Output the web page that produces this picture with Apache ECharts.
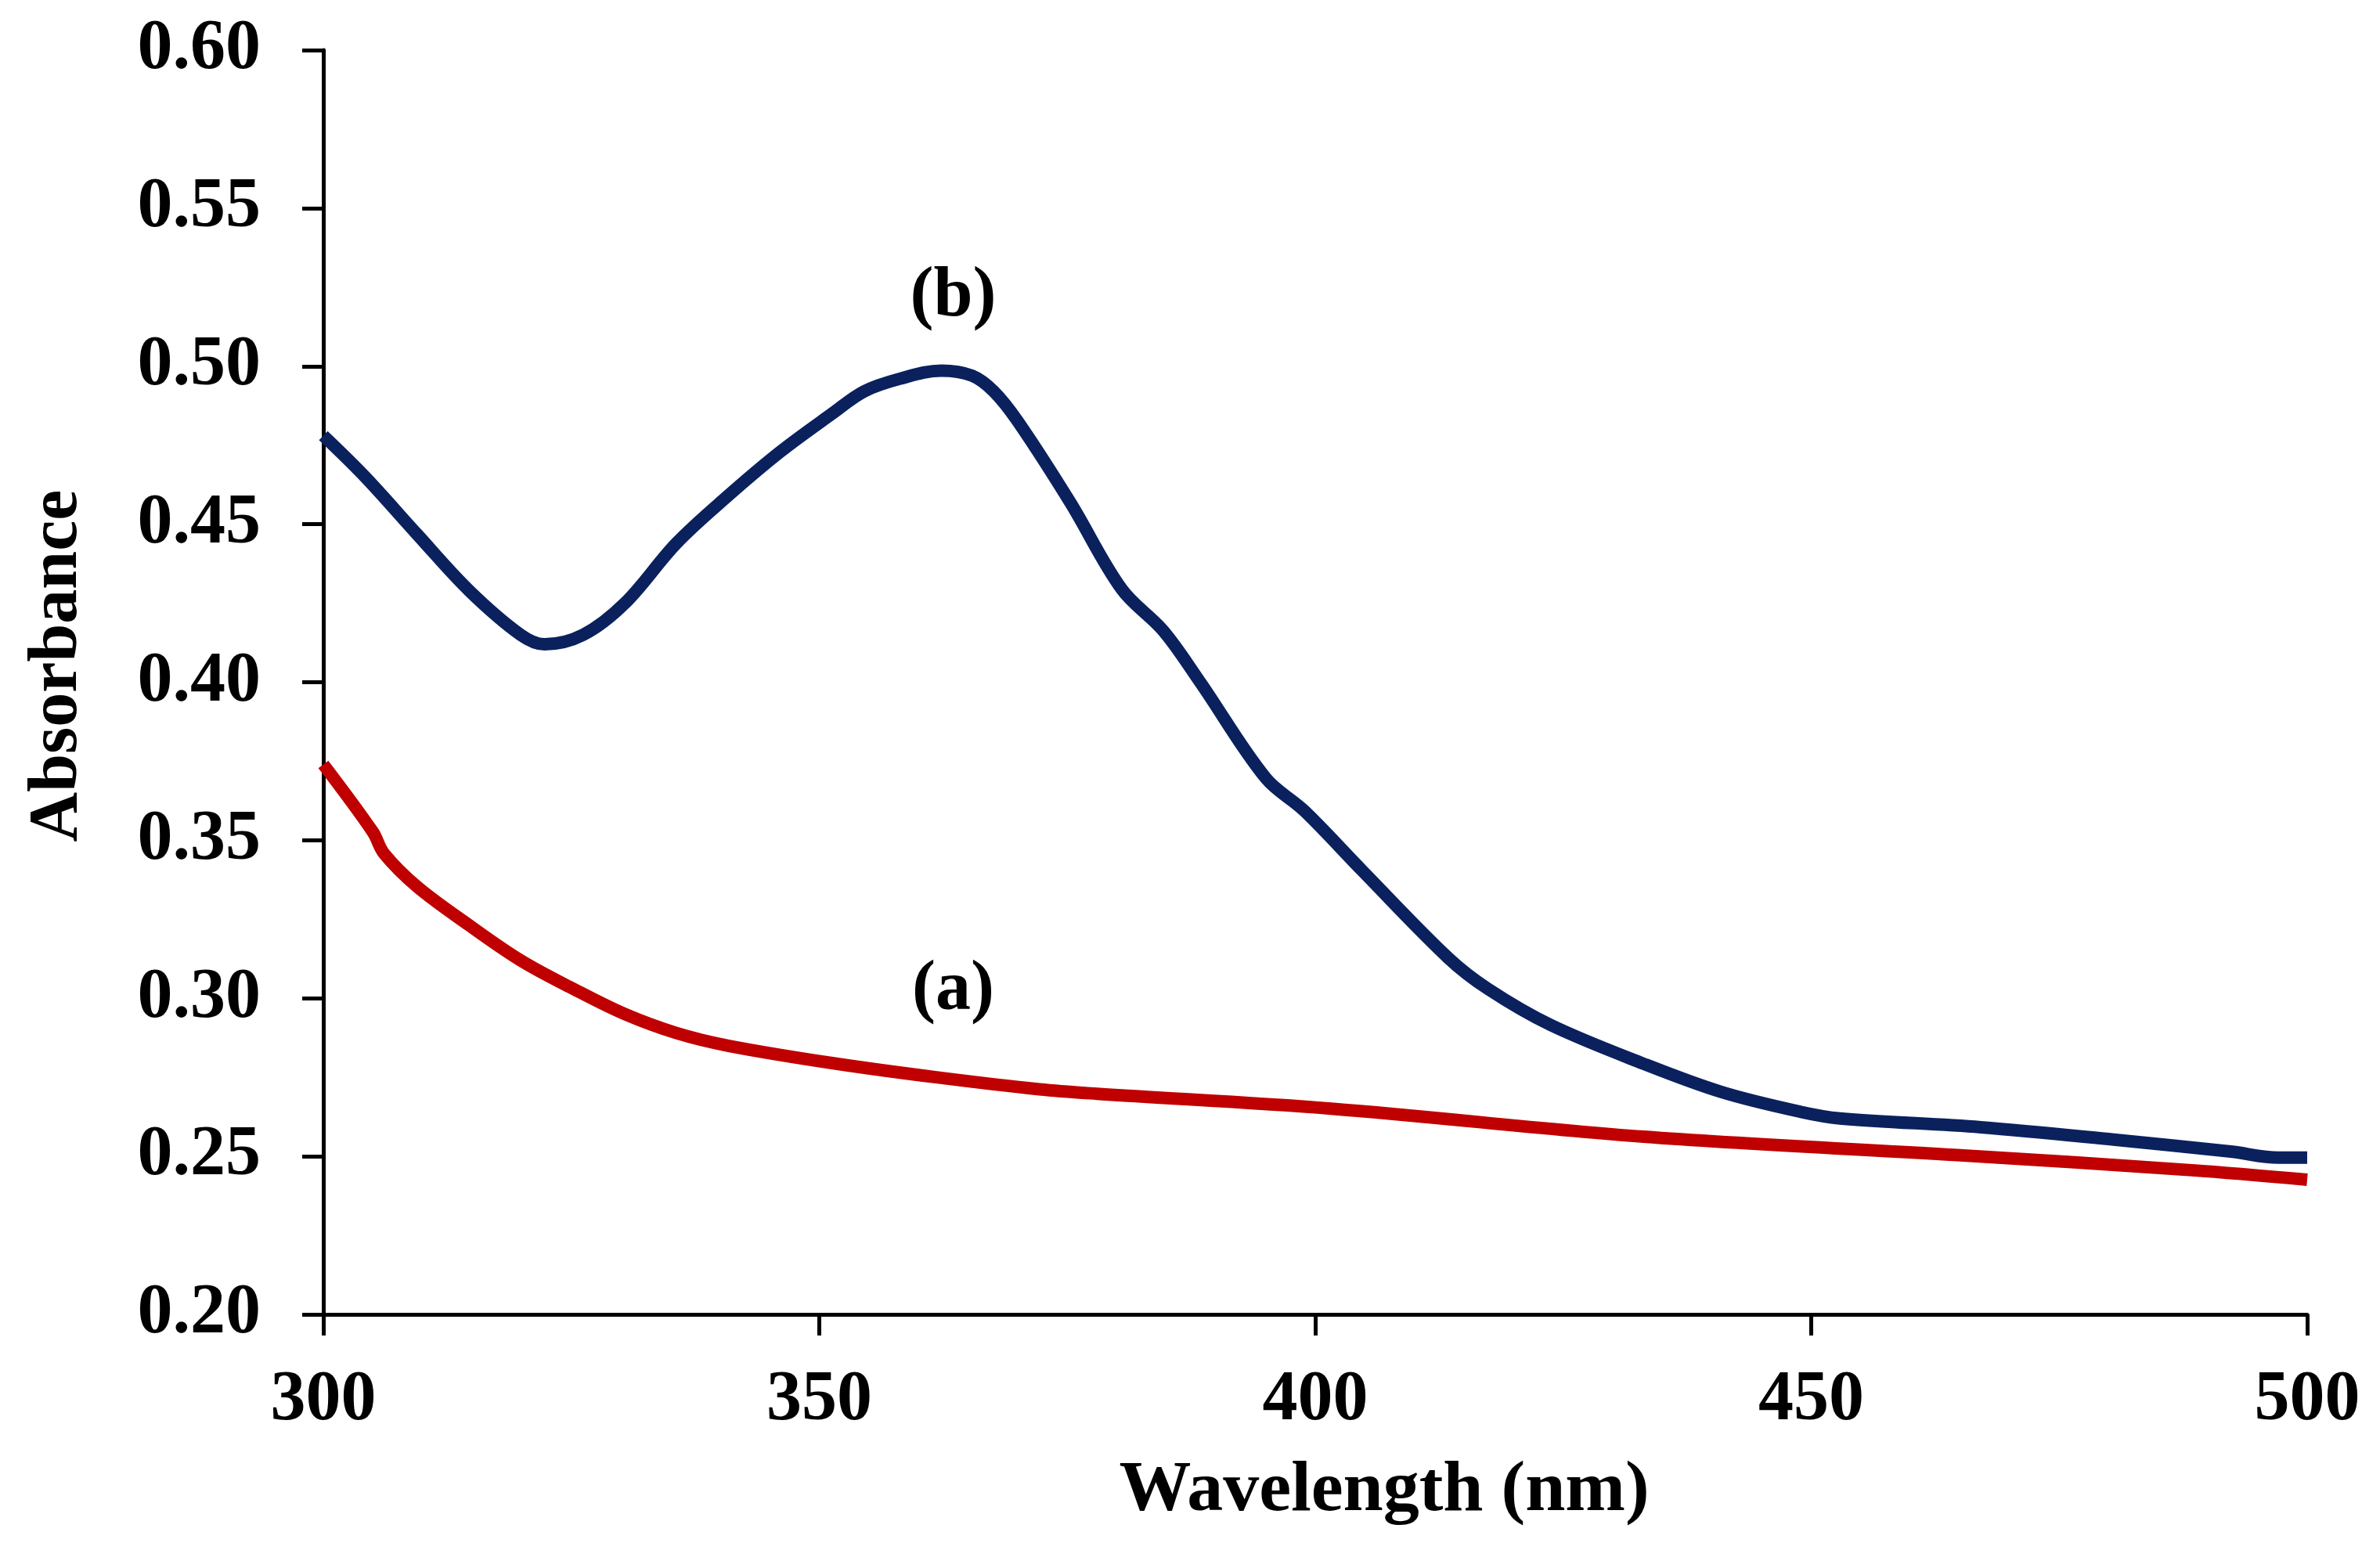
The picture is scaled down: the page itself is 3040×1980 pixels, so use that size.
<!DOCTYPE html>
<html>
<head>
<meta charset="utf-8">
<script src="https://cdn.jsdelivr.net/npm/echarts@6/dist/echarts.min.js"></script>
<style>
  html, body { margin: 0; padding: 0; background: #ffffff; }
  #chart { width: 3040px; height: 1980px; }
</style>
</head>
<body>
<div id="chart"></div>
<script>
// ---- data ----
const xTickValues = [300, 350, 400, 450, 500];
const yTickValues = [0.20, 0.25, 0.30, 0.35, 0.40, 0.45, 0.50, 0.55, 0.60];

const wavelengthA = [300, 305.0, 306.1, 309.5, 314.8, 319.9, 325.2, 330.4, 335.6, 340.8, 351.3, 361.8, 372.2, 378, 401.6, 433.1, 464.7, 488.4, 500];
const absorbanceA = [0.374, 0.3526, 0.3459, 0.3352, 0.3229, 0.312, 0.303, 0.295, 0.289, 0.285, 0.2795, 0.275, 0.2712, 0.2698, 0.2651, 0.2562, 0.2504, 0.2456, 0.2426];

const wavelengthB = [300, 304.2, 309.4, 314.7, 319.9, 322.3, 326.2, 330.4, 335.6, 340.8, 346.1, 351.3, 354.5, 358.1, 362.3, 365.4, 367.6, 370.0, 375.3, 380.5, 384.7, 388.4, 395.0, 398.9, 404.7, 413.4, 417.4, 423.7, 433.1, 441.0, 448.9, 452.9, 467.1, 480.5, 492.3, 497.1, 500];
const absorbanceB = [0.478, 0.465, 0.447, 0.429, 0.415, 0.412, 0.415, 0.425, 0.444, 0.459, 0.473, 0.485, 0.492, 0.496, 0.4986, 0.497, 0.492, 0.4826, 0.4569, 0.4294, 0.4162, 0.400, 0.3697, 0.3593, 0.3405, 0.3128, 0.303, 0.2916, 0.2793, 0.2703, 0.2641, 0.262, 0.2592, 0.2553, 0.2515, 0.2496, 0.2496];

const curveLabels = ['(a)', '(b)'];
const curveLabelX = [363.5, 363.5];
const curveLabelY = [0.3023, 0.5217];

const xTitle = 'Wavelength (nm)';
const yTitle = 'Absorbance';

// ---- chart ----
const font = '"Liberation Serif", "Times New Roman", serif';
const pairs = (xs, ys) => xs.map((x, i) => [x, ys[i]]);

const chart = echarts.init(document.getElementById('chart'), null, { renderer: 'canvas' });

const axisLineStyle = { color: '#000000', width: 5 };

chart.setOption({
  backgroundColor: '#ffffff',
  animation: false,
  grid: { left: 413, right: 93, top: 64, bottom: 301, containLabel: false },
  xAxis: {
    type: 'value',
    min: xTickValues[0],
    max: xTickValues[xTickValues.length - 1],
    interval: xTickValues[1] - xTickValues[0],
    name: xTitle,
    nameLocation: 'middle',
    nameGap: 180,
    nameTextStyle: { fontFamily: font, fontWeight: 'bold', fontSize: 92, color: '#000', padding: [0, 0, 0, 176] },
    axisLine: { show: true, onZero: false, lineStyle: axisLineStyle },
    axisTick: { show: true, inside: false, length: 27, lineStyle: axisLineStyle },
    axisLabel: { margin: 66, fontFamily: font, fontWeight: 'bold', fontSize: 90, color: '#000' },
    splitLine: { show: false }
  },
  yAxis: {
    type: 'value',
    min: yTickValues[0],
    max: yTickValues[yTickValues.length - 1],
    interval: 0.05,
    name: yTitle,
    nameLocation: 'middle',
    nameRotate: 90,
    nameGap: 295,
    nameTextStyle: { fontFamily: font, fontWeight: 'bold', fontSize: 88, color: '#000', padding: [0, 0, 0, 42] },
    axisLine: { show: true, lineStyle: axisLineStyle },
    axisTick: { show: true, inside: false, length: 27, lineStyle: axisLineStyle },
    axisLabel: {
      margin: 80, fontFamily: font, fontWeight: 'bold', fontSize: 90, color: '#000',
      formatter: v => v.toFixed(2)
    },
    splitLine: { show: false }
  },
  series: [
    {
      name: curveLabels[0],
      type: 'line',
      data: pairs(wavelengthA, absorbanceA),
      smooth: 0.35,
      showSymbol: false,
      lineStyle: { color: '#c00000', width: 16 },
      itemStyle: { color: '#c00000' },
      markPoint: {
        symbol: 'circle', symbolSize: 1, itemStyle: { color: 'rgba(0,0,0,0)' },
        label: { show: true, position: 'inside', formatter: curveLabels[0], fontFamily: font, fontWeight: 'bold', fontSize: 90, color: '#000' },
        data: [{ coord: [curveLabelX[0], curveLabelY[0]] }]
      },
      z: 2
    },
    {
      name: curveLabels[1],
      type: 'line',
      data: pairs(wavelengthB, absorbanceB),
      smooth: 0.35,
      showSymbol: false,
      lineStyle: { color: '#0a215e', width: 16 },
      itemStyle: { color: '#0a215e' },
      markPoint: {
        symbol: 'circle', symbolSize: 1, itemStyle: { color: 'rgba(0,0,0,0)' },
        label: { show: true, position: 'inside', formatter: curveLabels[1], fontFamily: font, fontWeight: 'bold', fontSize: 90, color: '#000' },
        data: [{ coord: [curveLabelX[1], curveLabelY[1]] }]
      },
      z: 3
    }
  ]
});
</script>
</body>
</html>
